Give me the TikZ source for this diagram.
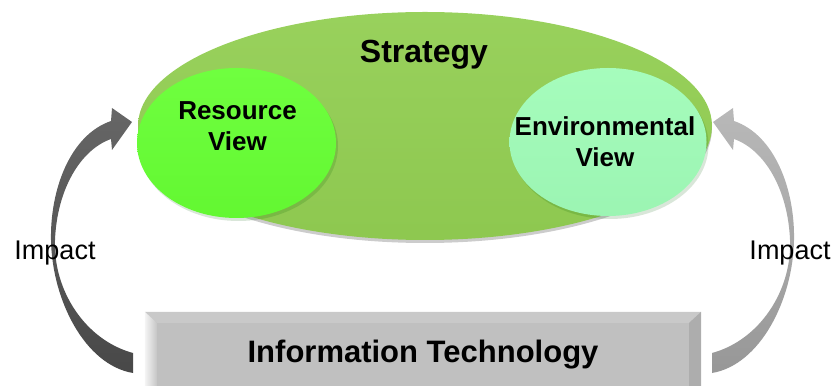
\documentclass[tikz,border=0pt]{standalone}
\usepackage{fontspec}
\setmainfont{Liberation Sans}
\usetikzlibrary{shapes.geometric, shadows, calc}
\definecolor{stratgreen}{RGB}{146,206,82}
\definecolor{resgreen}{RGB}{102,255,51}
\definecolor{envgreen}{RGB}{160,252,184}
\definecolor{itgray}{RGB}{192,192,192}
\definecolor{darkarrow}{RGB}{85,85,85}
\definecolor{lightarrow}{RGB}{172,172,172}

\tikzset{
  strategy/.style={ellipse, inner sep=0pt, minimum width=574pt, minimum height=228pt,
    top color=stratgreen!94!white, bottom color=stratgreen!97!black,
    drop shadow={shadow xshift=0pt, shadow yshift=-3pt, fill=black, opacity=0.2}},
  view/.style={ellipse, inner sep=0pt,
    drop shadow={shadow xshift=2pt, shadow yshift=-3pt, fill=green!35!black, opacity=0.15}},
  viewtext/.style={font=\fontsize{26}{31}\selectfont\bfseries, align=center},
  titletext/.style={font=\fontsize{32}{36}\selectfont\bfseries, anchor=base},
  itbox/.style={rectangle, inner sep=0pt, minimum width=556pt, minimum height=86pt, fill=itgray},
  impacttext/.style={font=\fontsize{27}{30}\selectfont, anchor=base},
  % curved block arrow, tail at the bottom, head at the top
  impact arrow/.pic={
    \path[pic actions] (133,32) .. controls (85,45) and (53,95) .. (55,145)
      .. controls (57,195) and (80,235) .. (111,246) -- (112,235) -- (132,263)
      -- (112,277) -- (111,264) .. controls (70,250) and (50,195) .. (51,145)
      .. controls (52,85) and (85,20) .. (133,12) -- cycle;
  }
}

\begin{document}
\begin{tikzpicture}[x=1pt, y=1pt]
  \useasboundingbox (0,0) rectangle (834,385);
  \clip (0,0) rectangle (834,385);

  % Strategy with its two views
  \node[strategy] (strategy) at (425,259) {};
  \node[titletext] (stratlabel) at (424,322) {Strategy};

  \node[view, minimum width=199pt, minimum height=150pt,
    top color=resgreen!94!white, bottom color=resgreen!97!black] (resource) at (236.5,242) {};
  \node[viewtext] (restext) at (237.5,259.3) {Resource\\View};

  \node[view, minimum width=197pt, minimum height=148pt,
    top color=envgreen!94!white, bottom color=envgreen!97!black] (environment) at (608,243) {};
  \node[viewtext] (envtext) at (605,243.3) {Environmental\\View};

  % Information technology box, bevelled edges
  \node[itbox] (it) at (423,30) {};
  \fill[itgray!85!white] (it.north west) -- (it.north east) -- ($(it.north east)+(-12,-11)$)
    -- ($(it.north west)+(12,-11)$) -- cycle;
  \shade[left color=white!92!gray, right color=itgray!90!white] (it.north west)
    -- ($(it.north west)+(12,-11)$) -- ($(it.south west)+(12,11)$) -- (it.south west) -- cycle;
  \fill[itgray!90!black] (it.north east) -- ($(it.north east)+(-12,-11)$)
    -- ($(it.south east)+(-12,11)$) -- (it.south east) -- cycle;
  \node[titletext, font=\fontsize{31}{36}\selectfont\bfseries] (itlabel) at (423,22) {Information Technology};

  % Impact arrows
  \pic[top color=darkarrow!90!white, bottom color=darkarrow!85!black] (leftarrow) at (0,0) {impact arrow};
  \pic[xscale=-1, top color=lightarrow!85!white, bottom color=lightarrow!88!black] (rightarrow) at (845,0) {impact arrow};

  \node[impacttext] (leftimpact) at (55,125) {Impact};
  \node[impacttext] (rightimpact) at (790,125) {Impact};
\end{tikzpicture}
\end{document}
